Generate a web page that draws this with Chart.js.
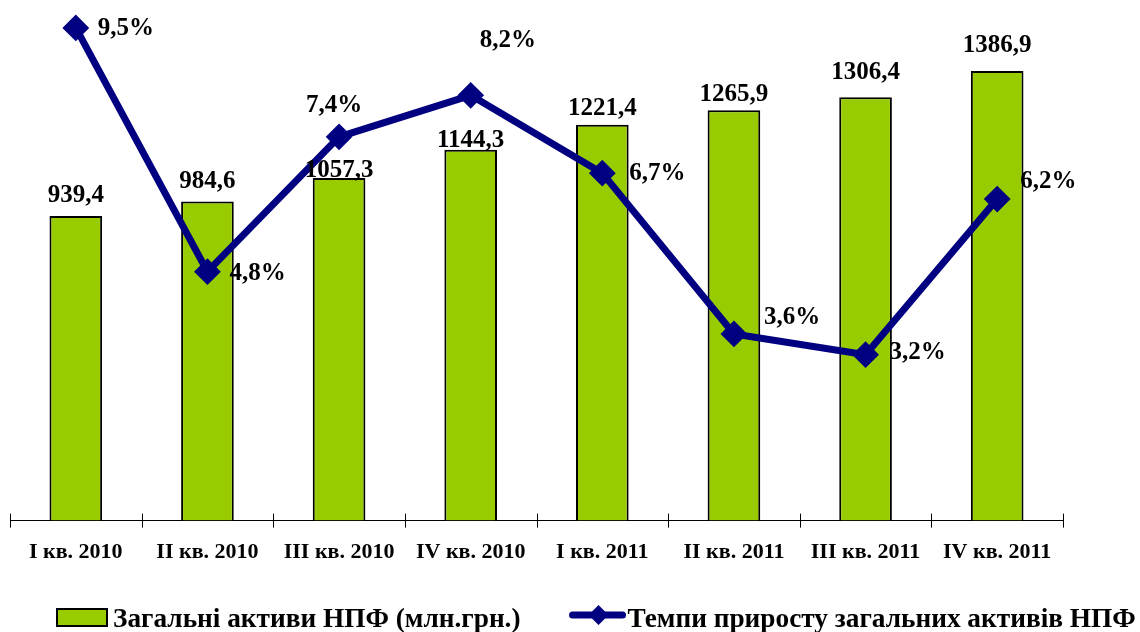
<!DOCTYPE html>
<html>
<head>
<meta charset="utf-8">
<script src="https://cdn.jsdelivr.net/npm/chart.js@4"></script>
<style>
  html, body { margin: 0; padding: 0; background: #fff; }
</style>
</head>
<body>
<canvas id="chart" width="1140" height="632"></canvas>
<script>
const quarters = ['I кв. 2010', 'II кв. 2010', 'III кв. 2010', 'IV кв. 2010', 'I кв. 2011', 'II кв. 2011', 'III кв. 2011', 'IV кв. 2011']
const assets = [939.4, 984.6, 1057.3, 1144.3, 1221.4, 1265.9, 1306.4, 1386.9]
const growth = [9.5, 4.8, 7.4, 8.2, 6.7, 3.6, 3.2, 6.2]
const assetsLabel = 'Загальні активи НПФ (млн.грн.)'
const growthLabel = 'Темпи приросту загальних активів НПФ'

const FONT = "'Liberation Serif', 'Times New Roman', serif"
const GREEN = '#99CC00'
const NAVY = '#000080'

const fmt = (v) => v.toFixed(1).replace('.', ',')

// value labels for bars and line points
const valueLabels = {
  id: 'valueLabels',
  afterDatasetsDraw(chart, args, opts) {
    const ctx = chart.ctx
    ctx.save()
    ctx.fillStyle = '#000'
    ctx.font = `bold 25px ${FONT}`
    ctx.textAlign = 'center'
    ctx.textBaseline = 'alphabetic'
    chart.getDatasetMeta(0).data.forEach((bar, i) => {
      ctx.fillText(fmt(assets[i]), bar.x, bar.y - opts.barGaps[i])
    })
    ctx.textAlign = 'left'
    ctx.textBaseline = 'middle'
    chart.getDatasetMeta(1).data.forEach((pt, i) => {
      const [dx, dy] = opts.lineOffsets[i]
      ctx.fillText(fmt(growth[i]) + '%', pt.x + dx, pt.y + dy)
    })
    ctx.restore()
  },
}

// tick marks crossing the axis line at category borders
const axisTicks = {
  id: 'axisTicks',
  afterDraw(chart) {
    const { ctx, chartArea } = chart
    const x = chart.scales.x
    const step = x.width / quarters.length
    ctx.save()
    ctx.strokeStyle = '#000'
    ctx.lineWidth = 1
    ctx.beginPath()
    for (let i = 0; i <= quarters.length; i++) {
      const px = Math.round(x.left + i * step) + 0.5
      ctx.moveTo(px, chartArea.bottom - 7)
      ctx.lineTo(px, chartArea.bottom + 7)
    }
    ctx.stroke()
    ctx.restore()
  },
}

const bottomLegend = {
  id: 'bottomLegend',
  afterDraw(chart) {
    const ctx = chart.ctx
    const y = chart.height - 15
    let x = 57
    ctx.save()
    ctx.font = `bold 27.3px ${FONT}`
    ctx.textBaseline = 'alphabetic'
    ctx.textAlign = 'left'

    ctx.fillStyle = GREEN
    ctx.strokeStyle = '#000'
    ctx.lineWidth = 2
    ctx.fillRect(x, y - 8, 50, 17)
    ctx.strokeRect(x, y - 8, 50, 17)
    x += 56
    ctx.fillStyle = '#000'
    ctx.fillText(assetsLabel, x, y + 10)
    x += ctx.measureText(assetsLabel).width + 49

    ctx.strokeStyle = NAVY
    ctx.lineWidth = 7
    ctx.lineCap = 'round'
    ctx.beginPath()
    ctx.moveTo(x + 3, y - 2)
    ctx.lineTo(x + 53, y - 2)
    ctx.stroke()
    ctx.fillStyle = NAVY
    ctx.beginPath()
    const cx = x + 29
    ctx.moveTo(cx, y - 12)
    ctx.lineTo(cx + 10, y - 2)
    ctx.lineTo(cx, y + 8)
    ctx.lineTo(cx - 10, y - 2)
    ctx.closePath()
    ctx.fill()
    x += 58
    ctx.fillStyle = '#000'
    ctx.fillText(growthLabel, x, y + 10)
    ctx.restore()
  },
}

new Chart(document.getElementById('chart'), {
  type: 'bar',
  data: {
    labels: quarters,
    datasets: [
      {
        label: assetsLabel,
        data: assets,
        backgroundColor: GREEN,
        borderColor: '#000',
        borderWidth: 2,
        barPercentage: 0.4,
        categoryPercentage: 1,
        yAxisID: 'y',
        order: 1,
      },
      {
        type: 'line',
        label: growthLabel,
        data: growth,
        borderColor: NAVY,
        borderWidth: 7,
        pointStyle: 'rectRot',
        pointRadius: 12,
        pointBorderWidth: 2,
        pointBackgroundColor: NAVY,
        pointBorderColor: NAVY,
        tension: 0,
        clip: false,
        yAxisID: 'y1',
        order: 0,
      },
    ],
  },
  options: {
    responsive: false,
    animation: false,
    layout: {
      autoPadding: false,
      padding: { left: 10, right: 77, top: 2, bottom: 47 },
    },
    plugins: {
      legend: { display: false },
      tooltip: { enabled: false },
      valueLabels: {
        barGaps: [14, 13, 1, 3, 10, 9, 18, 19],
        lineOffsets: [[22, 1], [22, 2], [-33, -31], [9, -55], [27, 0], [30, -16], [24, -2], [23, -18]],
      },
    },
    scales: {
      x: {
        grid: { display: false, drawTicks: false },
        border: { display: true, color: '#000', width: 1 },
        ticks: {
          color: '#000',
          padding: 19,
          font: { family: FONT, size: 22, weight: 'bold' },
          maxRotation: 0,
        },
      },
      y: { display: false, min: 0, max: 1600 },
      y1: { display: false, min: 0, max: 10 },
    },
  },
  plugins: [valueLabels, axisTicks, bottomLegend],
})
</script>
</body>
</html>
